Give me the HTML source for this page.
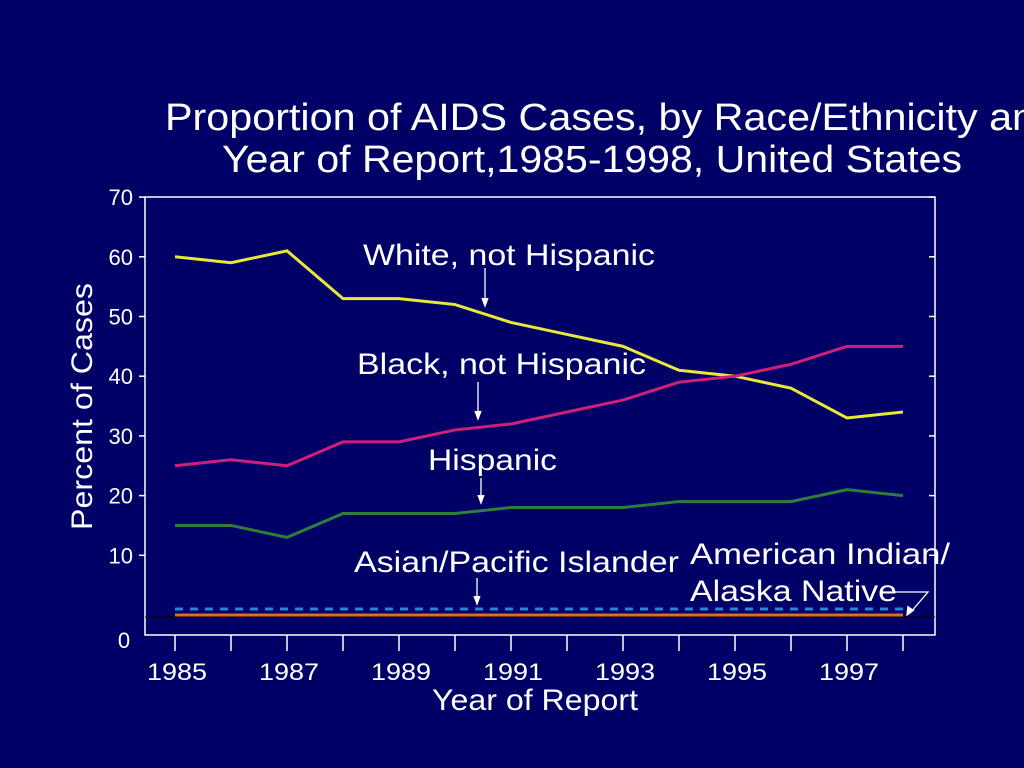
<!DOCTYPE html>
<html><head><meta charset="utf-8"><style>
html,body{margin:0;padding:0;background:#000066;overflow:hidden}
svg{display:block}
text{font-family:"Liberation Sans",sans-serif;fill:#fff}
</style></head><body>
<svg width="1024" height="768">
<rect width="1024" height="768" fill="#000066"/>
<text x="165" y="130" font-size="38" textLength="893" lengthAdjust="spacingAndGlyphs">Proportion of AIDS Cases, by Race/Ethnicity and</text>
<text x="222" y="172" font-size="38" textLength="740" lengthAdjust="spacingAndGlyphs">Year of Report,1985-1998, United States</text>
<rect x="145" y="197" width="790" height="438" fill="none" stroke="#fff" stroke-width="1.5"/>
<g id="axes"></g>
<g id="series"></g>
<text x="432" y="710" font-size="30" textLength="206" lengthAdjust="spacingAndGlyphs">Year of Report</text>
<text transform="translate(92,530) rotate(-90)" font-size="30" textLength="247" lengthAdjust="spacingAndGlyphs">Percent of Cases</text>
<text x="124" y="648" font-size="22" text-anchor="middle">0</text>
<g id="anno" stroke="#fff" stroke-width="1.3" fill="none">
<text x="363" y="265" font-size="30" textLength="292" lengthAdjust="spacingAndGlyphs" stroke="none">White, not Hispanic</text>
<line x1="485" y1="268" x2="485" y2="305"/><path d="M482 298 L485 306 L488 298" fill="#fff"/>
<text x="357" y="374" font-size="30" textLength="289" lengthAdjust="spacingAndGlyphs" stroke="none">Black, not Hispanic</text>
<line x1="478" y1="382" x2="478" y2="418"/><path d="M475 411 L478 419 L481 411" fill="#fff"/>
<text x="428" y="470" font-size="30" textLength="129" lengthAdjust="spacingAndGlyphs" stroke="none">Hispanic</text>
<line x1="481" y1="478" x2="481" y2="502"/><path d="M478 495 L481 503 L484 495" fill="#fff"/>
<text x="354" y="572" font-size="30" textLength="325" lengthAdjust="spacingAndGlyphs" stroke="none">Asian/Pacific Islander</text>
<line x1="477" y1="578" x2="477" y2="603"/><path d="M474 596 L477 604 L480 596" fill="#fff"/>
<text x="690" y="564" font-size="30" textLength="260" lengthAdjust="spacingAndGlyphs" stroke="none">American Indian/</text>
<text x="690" y="601" font-size="30" textLength="207" lengthAdjust="spacingAndGlyphs" stroke="none">Alaska Native</text>
<path d="M880 592 L928 592 L910 613"/><path d="M908 606 L907 615 L914 610" fill="#fff"/>
</g>
</svg>
<script>
const years=[1985,1986,1987,1988,1989,1990,1991,1992,1993,1994,1995,1996,1997,1998];
const white=[60,59,61,53,53,52,49,47,45,41,40,38,33,34];
const black=[25,26,25,29,29,31,32,34,36,39,40,42,45,45];
const hispanic=[15,15,13,17,17,17,18,18,18,19,19,19,21,20];
const asian=[1,1,1,1,1,1,1,1,1,1,1,1,1,1];
const amind=[0,0,0,0,0,0,0,0,0,0,0,0,0,0];
const yTicks=[10,20,30,40,50,60,70];
const xLabels=[1985,1987,1989,1991,1993,1995,1997];
const NS='http://www.w3.org/2000/svg';
const X=y=>175+(y-1985)*56;
const Y=v=>615-v*5.97;
function mk(t,a,p){const e=document.createElementNS(NS,t);for(const k in a)e.setAttribute(k,a[k]);p.appendChild(e);return e;}
const ax=document.getElementById('axes');
yTicks.forEach(v=>{
 const l=mk('line',{x1:139,x2:145,y1:Y(v),y2:Y(v),stroke:'#fff','stroke-width':1.5},ax);
 
 
 const r=mk('line',{x1:929,x2:935,y1:Y(v),y2:Y(v),stroke:'#fff','stroke-width':1.5},ax);
 
 
 const t=mk('text',{x:133,y:Y(v)+8,'font-size':22,'text-anchor':'end'},ax);t.textContent=v;
 
 
});
years.forEach(y=>{
 const l=mk('line',{x1:X(y),x2:X(y),y1:635,y2:651,stroke:'#fff','stroke-width':1.5},ax);
 
 
});
xLabels.forEach(y=>{
 const t=mk('text',{x:X(y)-28,y:680,'font-size':24,textLength:60,lengthAdjust:'spacingAndGlyphs'},ax);t.textContent=y;
 
 
});
const sg=document.getElementById('series');
const bl=mk('line',{x1:145,x2:935,y1:617,y2:617,stroke:'#000','stroke-width':1},sg);


function line(vals,color,name,extra){
 const d=vals.map((v,i)=>(i?'L':'M')+X(years[i])+' '+Y(v)).join(' ');
 const a=Object.assign({d:d,stroke:color,'stroke-width':3,fill:'none'},extra||{});
 const p=mk('path',a,sg);
 
 
}
line(white,'#e8e83a','series-white');
line(black,'#d01f7a','series-black');
line(hispanic,'#2e7d3a','series-hispanic');
line(amind,'#e06a20','series-american-indian');
line(asian,'#1e88e5','series-asian',{'stroke-dasharray':'8 7'});
</script>
</body></html>
